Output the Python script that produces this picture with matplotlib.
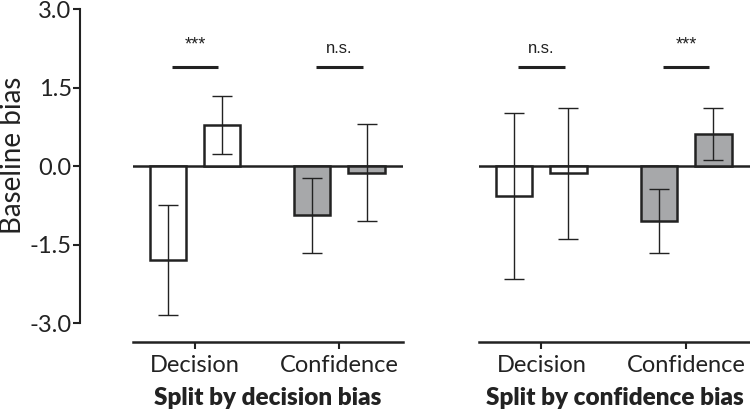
import matplotlib
matplotlib.use("Agg")
import matplotlib.pyplot as plt
import numpy as np

# Data
panels = ["Split by decision bias", "Split by confidence bias"]
groups = ["Decision", "Confidence"]
# values per panel: [group][bar]
values = [
    [[-1.80, 0.78], [-0.94, -0.13]],
    [[-0.57, -0.14], [-1.05, 0.61]],
]
errors = [
    [[1.05, 0.55], [0.72, 0.93]],
    [[1.58, 1.25], [0.62, 0.49]],
]
sig_labels = [["***", "n.s."], ["n.s.", "***"]]
yticks = [-3.0, -1.5, 0.0, 1.5, 3.0]
ytick_labels = ["-3.0", "-1.5", "0.0", "1.5", "3.0"]
sig_y = 1.89

group_colors = ["white", "#a7a8aa"]
edge = "#222222"
txt = "#222222"

W, H = 750, 412
fig = plt.figure(figsize=(W / 100, H / 100), dpi=100)

ylim = (-3.363, 3.0)
bottom = 1 - 342 / H
top = 1 - 9 / H
height = top - bottom

light = dict(family="Lato", fontweight="normal", color=txt)

# y-axis only axes
yax = fig.add_axes([80 / W, bottom, 0.01, height])
yax.set_ylim(*ylim)
for s in ["top", "right", "bottom"]:
    yax.spines[s].set_visible(False)
yax.spines["left"].set_bounds(-3, 3)
yax.spines["left"].set_linewidth(1.5)
yax.spines["left"].set_color(edge)
yax.set_xticks([])
yax.set_yticks(yticks)
yax.set_yticklabels(ytick_labels, fontsize=17, **light)
yax.tick_params(axis="y", length=5, width=1.5, pad=1, color=edge)
yax.patch.set_visible(False)
fig.text(13 / W, 1 - 155 / H, "Baseline bias", rotation=90, ha="center",
         va="center", fontsize=20, **light)

panel_lefts = [133, 479]
panel_widths = [270, 271]
width = 0.25
offset = 0.1875

for p in range(2):
    ax = fig.add_axes([panel_lefts[p] / W, bottom, panel_widths[p] / W, height])
    ax.set_ylim(*ylim)
    ax.set_xlim(-0.43, 1.44)
    for s in ["top", "right", "left"]:
        ax.spines[s].set_visible(False)
    ax.spines["bottom"].set_linewidth(1.8)
    ax.spines["bottom"].set_color(edge)
    ax.set_yticks([])
    x = np.arange(len(groups))
    ax.set_xticks(x)
    ax.set_xticklabels(groups, fontsize=17, **light)
    ax.tick_params(axis="x", length=5, width=1.5, pad=4, color=edge)
    ax.axhline(0, color=edge, lw=1.8, zorder=1)
    for g in range(len(groups)):
        for b in range(2):
            xpos = x[g] + (-offset if b == 0 else offset)
            ax.bar(xpos, values[p][g][b], width=width, color=group_colors[g],
                   edgecolor=edge, linewidth=1.8, zorder=2)
            ax.errorbar(xpos, values[p][g][b], yerr=errors[p][g][b], fmt="none",
                        ecolor=edge, elinewidth=1.0, capsize=7, capthick=1.0, zorder=3)
        ax.plot([x[g] - 0.16, x[g] + 0.16], [sig_y, sig_y], color=edge, lw=2.2,
                solid_capstyle="butt")
        lab = sig_labels[p][g]
        ax.text(x[g], sig_y + (0.26 if lab == "***" else 0.22), lab, ha="center",
                va="bottom", fontsize=12 if lab == "n.s." else 13,
                family="Liberation Sans", color=txt)
    ax.set_xlabel(panels[p], fontsize=17.5, family="Lato", fontweight="heavy",
                  color=txt, labelpad=8)
    ax.patch.set_visible(False)

fig.savefig("out.png", dpi=100)
